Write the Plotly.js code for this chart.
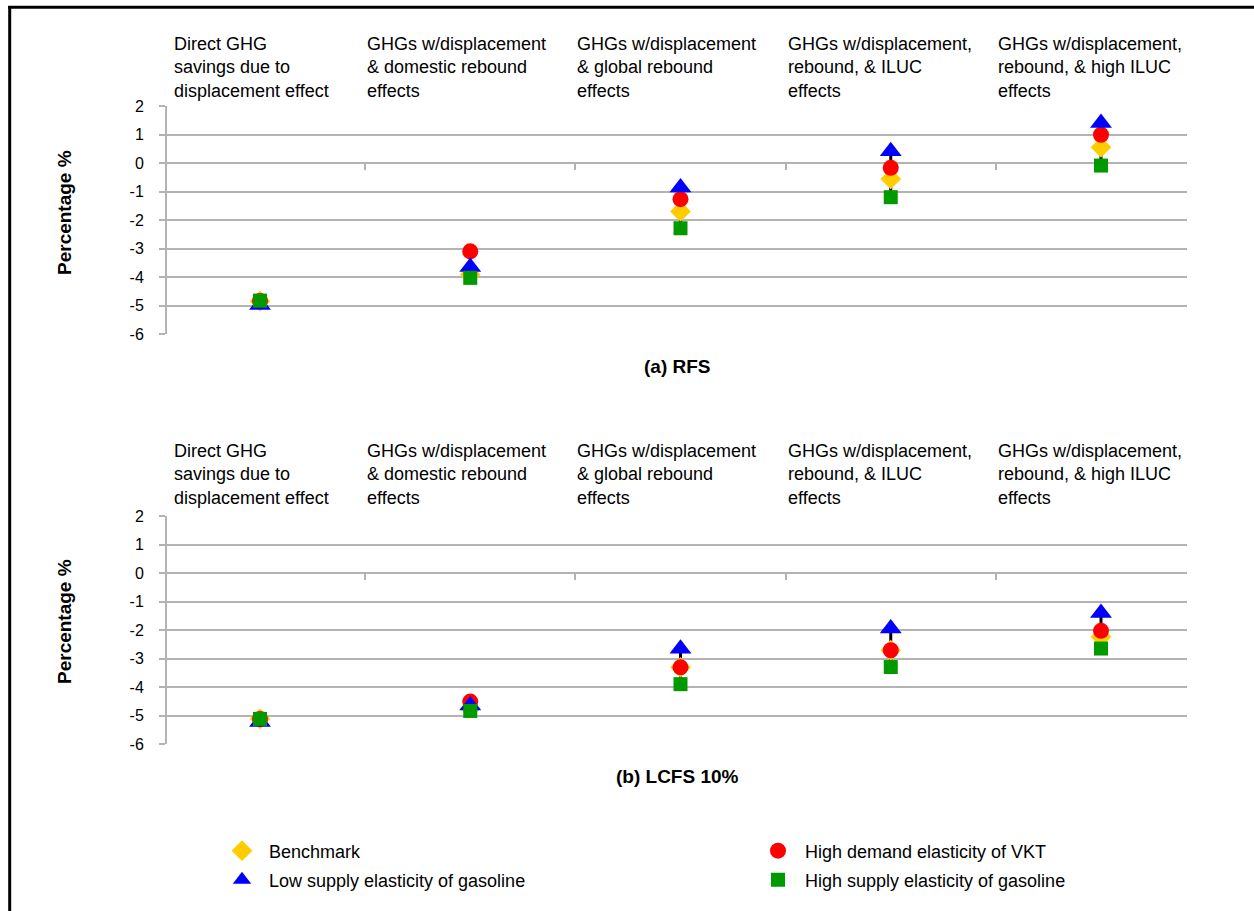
<!DOCTYPE html>
<html>
<head>
<meta charset="utf-8">
<script src="https://cdn.plot.ly/plotly-3.0.1.min.js"></script>
<style>
html,body{margin:0;padding:0;background:#fff;}
#chart{width:1254px;height:911px;}
</style>
</head>
<body>
<div id="chart"></div>
<script>
// ---------------- DATA ----------------
const categories = [
  "Direct GHG savings due to displacement effect",
  "GHGs w/displacement & domestic rebound effects",
  "GHGs w/displacement & global rebound effects",
  "GHGs w/displacement, rebound, & ILUC effects",
  "GHGs w/displacement, rebound, & high ILUC effects"
];
const headerLines = [
  ["Direct GHG", "savings due to", "displacement effect"],
  ["GHGs w/displacement", "& domestic rebound", "effects"],
  ["GHGs w/displacement", "& global rebound", "effects"],
  ["GHGs w/displacement,", "rebound, & ILUC", "effects"],
  ["GHGs w/displacement,", "rebound, & high ILUC", "effects"]
];
const seriesNames = [
  "Benchmark",
  "High demand elasticity of VKT",
  "Low supply elasticity of gasoline",
  "High supply elasticity of gasoline"
];
const panelTitles = ["(a) RFS", "(b) LCFS 10%"];
const yTitle = "Percentage %";
const yTickVals = [2, 1, 0, -1, -2, -3, -4, -5, -6];

// (a) RFS
const rfsBenchmark  = [-4.85, -3.92, -1.70, -0.56, 0.55];
const rfsHighDemand = [-4.84, -3.10, -1.27, -0.17, 0.99];
const rfsLowSupply  = [-4.98, -3.65, -0.86, 0.41, 1.40];
const rfsHighSupply = [-4.83, -4.03, -2.29, -1.20, -0.09];

// (b) LCFS 10%
const lcfsBenchmark  = [-5.12, -4.75, -3.31, -2.71, -2.24];
const lcfsHighDemand = [-5.12, -4.51, -3.31, -2.71, -2.03];
const lcfsLowSupply  = [-5.23, -4.65, -2.66, -1.95, -1.40];
const lcfsHighSupply = [-5.12, -4.84, -3.90, -3.30, -2.65];

// ---------------- STYLE ----------------
const W = 1254, H = 911;
const FONT = "Liberation Sans, Arial, Helvetica, sans-serif";
const gridColor = "#b3b3b3";
const colors = ["#ffcc00", "#ff0000", "#0000ff", "#009900"];
const symbols = ["diamond", "circle", "triangle-up", "square"];
const sizes = [16, 16, 19, 14];

function pxX(p) { return p / W; }
function pxY(p) { return 1 - p / H; }

const xLeftPx = 166, xRightPx = 1187, firstCatPx = 260, catStepPx = 210.25;
const xLo = -(firstCatPx - xLeftPx) / catStepPx;
const xHi = (categories.length - 1) + (xRightPx - (firstCatPx + catStepPx * (categories.length - 1))) / catStepPx;

const panels = [
  { data: [rfsBenchmark, rfsHighDemand, rfsLowSupply, rfsHighSupply], top: 106, bottom: 334, header: 67.5, title: 366, ytitle: 213, xa: "x", ya: "y" },
  { data: [lcfsBenchmark, lcfsHighDemand, lcfsLowSupply, lcfsHighSupply], top: 516, bottom: 744, header: 474.5, title: 776, ytitle: 622, xa: "x2", ya: "y2" }
];

// legend placement (pixel centres of legend symbols)
const legendSpots = [[241, 851], [777, 851], [241, 880], [777, 880]];
const legendIds = ["legend", "legend2", "legend3", "legend4"];

const traces = [];
const annotations = [];
const layout = {
  width: W, height: H,
  margin: { l: 0, r: 0, t: 0, b: 0, pad: 0 },
  paper_bgcolor: "#ffffff",
  plot_bgcolor: "#ffffff",
  font: { family: FONT, color: "#000000", size: 16 },
  showlegend: true,
  hovermode: false
};

panels.forEach((p, pi) => {
  const yDom = [pxY(p.bottom), pxY(p.top)];
  const yZero = yDom[0] + (0 - (-6)) / 8 * (yDom[1] - yDom[0]);
  const xName = pi === 0 ? "xaxis" : "xaxis2";
  const yName = pi === 0 ? "yaxis" : "yaxis2";
  layout[xName] = {
    domain: [pxX(xLeftPx), pxX(xRightPx)],
    type: "category",
    categoryorder: "array",
    categoryarray: categories,
    range: [xLo, xHi],
    anchor: "free",
    position: yZero,
    showgrid: false, zeroline: false, showline: false,
    ticks: "outside", tickson: "boundaries", ticklen: 6, tickwidth: 2, tickcolor: gridColor,
    showticklabels: false, fixedrange: true
  };
  layout[yName] = {
    domain: yDom,
    range: [-6, 2],
    tickmode: "array",
    tickvals: yTickVals,
    ticktext: yTickVals.map(String),
    anchor: "free",
    position: pxX(xLeftPx),
    showgrid: true, gridcolor: gridColor, gridwidth: 2,
    showline: true, linecolor: gridColor, linewidth: 2,
    zeroline: false,
    ticks: "outside", ticklen: 6, tickwidth: 2, tickcolor: gridColor,
    ticklabelstandoff: 12,
    tickfont: { family: FONT, size: 16, color: "#000000" },
    fixedrange: true
  };

  // high-low connector line
  const hx = [], hy = [];
  categories.forEach((c, i) => {
    const vals = p.data.map(s => s[i]);
    hx.push(c, c, null);
    hy.push(Math.min(...vals), Math.max(...vals), null);
  });
  traces.push({
    type: "scatter", mode: "lines", x: hx, y: hy,
    xaxis: p.xa, yaxis: p.ya,
    line: { color: "#000000", width: 3 },
    showlegend: false, hoverinfo: "skip"
  });

  p.data.forEach((s, si) => {
    traces.push({
      type: "scatter", mode: "markers",
      name: seriesNames[si],
      x: categories, y: s,
      xaxis: p.xa, yaxis: p.ya,
      marker: { symbol: symbols[si], color: colors[si], size: sizes[si], line: { width: 0 } },
      showlegend: pi === 0,
      legend: legendIds[si]
    });
  });

  // column headers
  headerLines.forEach((lines, i) => {
    annotations.push({
      xref: p.xa, yref: "paper",
      x: i === 0 ? xLo : i - 0.5,
      xshift: i === 0 ? 6 : 0,
      y: pxY(p.header),
      xanchor: "left", yanchor: "middle",
      align: "left",
      text: lines.join("<br>"),
      showarrow: false,
      font: { family: FONT, size: 18, color: "#000000" }
    });
  });

  // panel title
  annotations.push({
    xref: "paper", yref: "paper",
    x: pxX(677), y: pxY(p.title),
    xanchor: "center", yanchor: "middle",
    text: "<b>" + panelTitles[pi] + "</b>",
    showarrow: false,
    font: { family: FONT, size: 19, color: "#000000" }
  });

  // y-axis title
  annotations.push({
    xref: "paper", yref: "paper",
    x: pxX(64), y: pxY(p.ytitle),
    xanchor: "center", yanchor: "middle",
    textangle: -90,
    text: "<b>" + yTitle + "</b>",
    showarrow: false,
    font: { family: FONT, size: 19, color: "#000000" }
  });
});

layout.annotations = annotations;

legendIds.forEach((id, k) => {
  layout[id] = {
    orientation: "h",
    xanchor: "left", yanchor: "middle",
    x: pxX(legendSpots[k][0] - 26),
    y: pxY(legendSpots[k][1]),
    itemwidth: 44,
    bgcolor: "rgba(0,0,0,0)", borderwidth: 0,
    font: { family: FONT, size: 18, color: "#000000" },
    itemclick: false, itemdoubleclick: false
  };
});

layout.shapes = [
  { type: "line", xref: "paper", yref: "paper", x0: pxX(9.7), x1: pxX(9.7), y0: pxY(6), y1: -0.02, line: { color: "#000000", width: 3 } },
  { type: "line", xref: "paper", yref: "paper", x0: pxX(8.2), x1: 1.02, y0: pxY(7.3), y1: pxY(7.3), line: { color: "#000000", width: 3 } }
];

Plotly.newPlot("chart", traces, layout, { displayModeBar: false, staticPlot: true });
</script>
</body>
</html>
